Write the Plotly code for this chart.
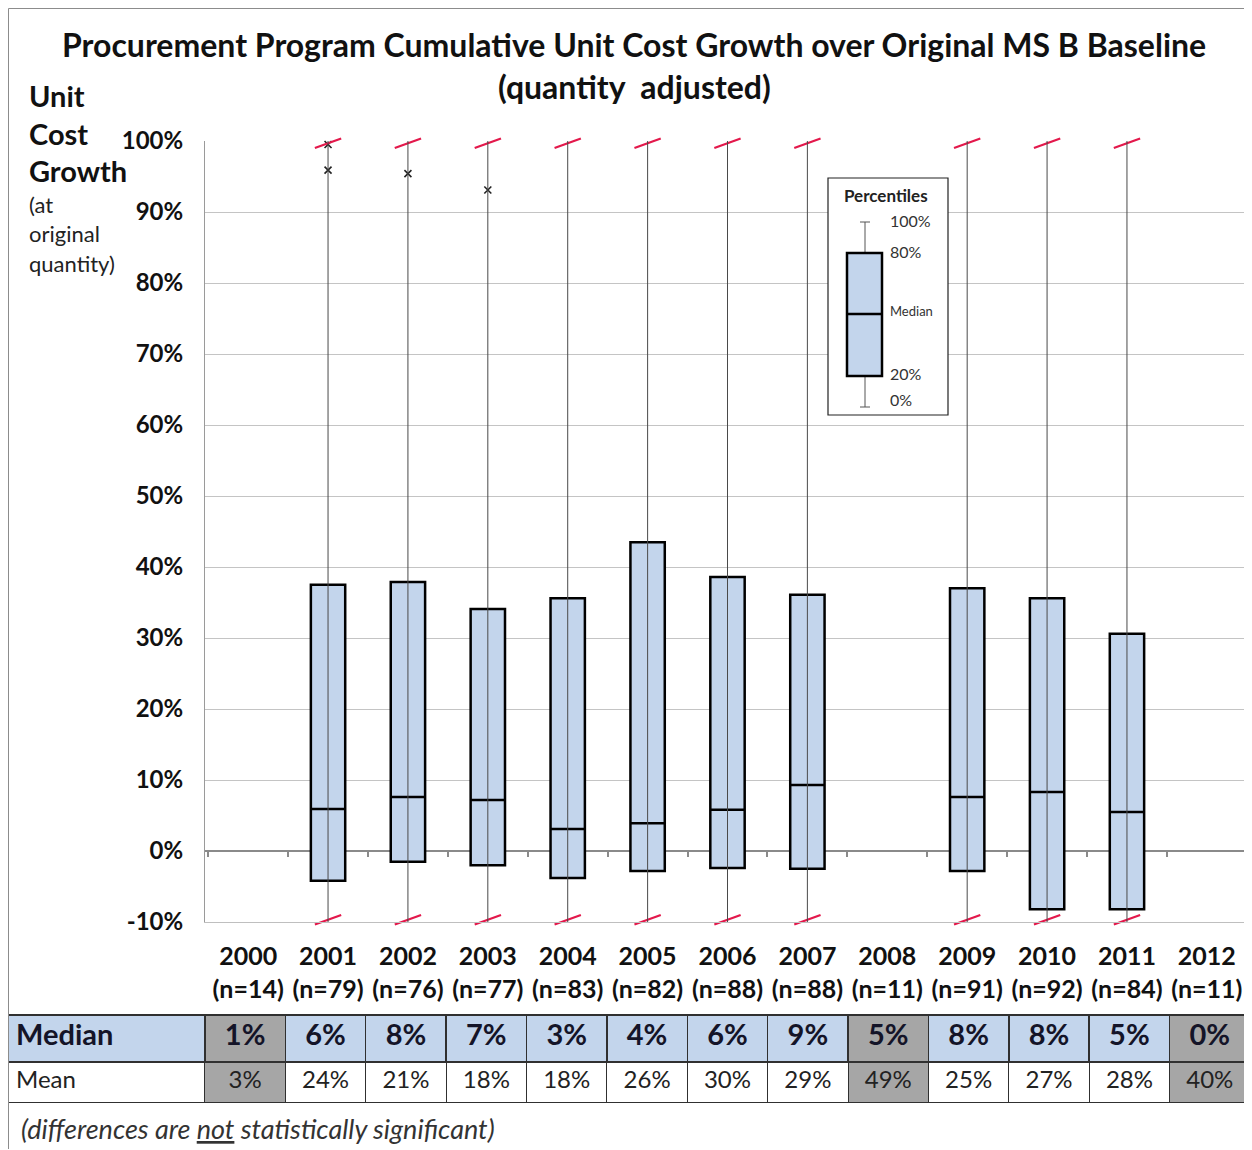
import plotly.graph_objects as go

# ---------------- data ----------------
years = ["2000", "2001", "2002", "2003", "2004", "2005", "2006",
         "2007", "2008", "2009", "2010", "2011", "2012"]
n_counts = [14, 79, 76, 77, 83, 82, 88, 88, 11, 91, 92, 84, 11]

box_years = ["2001", "2002", "2003", "2004", "2005", "2006", "2007",
             "2009", "2010", "2011"]
p20 = [-4.2, -1.5, -2.0, -3.8, -2.8, -2.4, -2.5, -2.8, -8.2, -8.2]
p50 = [5.9, 7.6, 7.2, 3.1, 3.9, 5.8, 9.3, 7.6, 8.3, 5.5]
p80 = [37.5, 37.9, 34.1, 35.6, 43.5, 38.6, 36.1, 37.0, 35.6, 30.6]
# whisker ends are off-scale; shown clipped at the axis limits
p0_clipped = [-10, -10, -10, -10, -10, -10, -10, -10, -10, -10]
p100_clipped = [100, 100, 100, 100, 100, 100, 100, 100, 100, 100]

outlier_years = ["2001", "2001", "2002", "2003"]
outlier_vals = [99.5, 95.9, 95.4, 93.1]

table_median = [1, 6, 8, 7, 3, 4, 6, 9, 5, 8, 8, 5, 0]
table_mean = [3, 24, 21, 18, 18, 26, 30, 29, 49, 25, 27, 28, 40]
grey_years = ["2000", "2008", "2012"]

y_tick_vals = [-10, 0, 10, 20, 30, 40, 50, 60, 70, 80, 90, 100]
y_tick_text = ["-10%", "0%", "10%", "20%", "30%", "40%", "50%",
               "60%", "70%", "80%", "90%", "100%"]

# ---------------- geometry helpers ----------------
# the page places the figure 8px in from the window corner,
# so positions below are given in window pixels and shifted by OFF
OFF = 8
W, H = 1244, 1142
ML, MR, MT, MB = 0, 2, 0, 2
PW, PH = W - ML - MR, H - MT - MB


def fx(x):
    return (x - OFF - ML) / PW


def fy(y):
    return (H - MB - (y - OFF)) / PH


FONT = "Lato"
RED = "#e3184b"
BLUE = "#c3d5ec"
GREY = "#a6a6a6"
XRANGE = [-0.54, len(years) - 0.46]

fig = go.Figure()

# whiskers (thin) - drawn on the overlay axis that carries the 0% ticks
wx, wy = [], []
for yr, lo, hi in zip(box_years, p0_clipped, p100_clipped):
    wx += [yr, yr, None]
    wy += [lo, hi, None]
fig.add_trace(go.Scatter(x=wx, y=wy, mode="lines", xaxis="x2",
                         line=dict(color="#4a4a4a", width=1),
                         hoverinfo="skip", showlegend=False, cliponaxis=False))

# boxes
fig.add_trace(go.Box(x=box_years, q1=p20, median=p50, q3=p80,
                     lowerfence=p20, upperfence=p80,
                     fillcolor=BLUE, line=dict(color="black", width=2.5),
                     width=0.43, whiskerwidth=0, boxpoints=False,
                     showlegend=False))

# outliers
fig.add_trace(go.Scatter(x=outlier_years, y=outlier_vals, mode="markers",
                         marker=dict(symbol="x-thin", size=7,
                                     line=dict(color="#222", width=1.6)),
                         showlegend=False, cliponaxis=False))

# red axis-break slashes at clipped whisker ends
for ends in (p100_clipped, p0_clipped):
    for d in (0.32, -0.32):
        fig.add_trace(go.Scatter(
            x=box_years, y=[v + d for v in ends], mode="markers",
            marker=dict(symbol="line-ew", size=20, angle=-20, color=RED,
                        line=dict(color=RED, width=2.2)),
            showlegend=False, cliponaxis=False, hoverinfo="skip"))

# table (Median as header row, Mean as body row)
hdr_fill = [BLUE] + [GREY if y in grey_years else BLUE for y in years]
cell_fill = ["white"] + [GREY if y in grey_years else "white" for y in years]
fig.add_trace(go.Table(
    domain=dict(x=[0, 1], y=[fy(1103), fy(1015)]),
    columnwidth=[197] + [80.4] * len(years),
    header=dict(values=[["Median"]] + [[f"{v}%"] for v in table_median],
                fill=dict(color=[[c] for c in hdr_fill]),
                line=dict(color="#303030", width=1.5),
                align=["left"] + ["center"] * len(years),
                font=dict(family=FONT, size=29, color="#141428", weight="bold"),
                height=47),
    cells=dict(values=[["Mean"]] + [[f"{v}%"] for v in table_mean],
               fill=dict(color=[[c] for c in cell_fill]),
               line=dict(color="#303030", width=1),
               align=["left"] + ["center"] * len(years),
               font=dict(family=FONT, size=24, color="#222"),
               height=40),
))

# ---------------- layout ----------------
tick_text_x = [f"{y}<br>(n={n})" for y, n in zip(years, n_counts)]

fig.update_layout(
    width=W, height=H,
    margin=dict(l=ML, r=MR, t=MT, b=MB, autoexpand=False),
    paper_bgcolor="white", plot_bgcolor="white",
    font=dict(family=FONT, color="#111"),
    xaxis=dict(type="category", categoryorder="array", categoryarray=years,
               range=XRANGE,
               domain=[fx(205), 1], automargin=False,
               tickvals=years, ticktext=tick_text_x,
               tickfont=dict(family=FONT, size=25, color="#111", weight="bold"),
               showgrid=False, showline=True, linecolor="#bfbfbf",
               ticks="", ticklabelstandoff=12, zeroline=False),
    # overlay category axis: carries the small boundary ticks along the 0% line
    xaxis2=dict(type="category", categoryorder="array", categoryarray=years,
                overlaying="x", anchor="free", position=fy(851),
                range=XRANGE, domain=[fx(205), 1],
                automargin=False, side="bottom",
                tickson="boundaries", showticklabels=False,
                ticks="outside", ticklen=5,
                tickcolor="#8a8a8a", tickwidth=1.5,
                showgrid=False, showline=False, zeroline=False),
    yaxis=dict(range=[-10, 100], domain=[fy(922), fy(141)], automargin=False,
               tickvals=y_tick_vals, ticktext=y_tick_text,
               tickfont=dict(family=FONT, size=24, color="#111", weight="bold"),
               showgrid=True, gridcolor="#c4c4c4", gridwidth=1,
               zeroline=True, zerolinecolor="#8a8a8a", zerolinewidth=2,
               showline=True, linecolor="#9a9a9a", ticks="",
               ticklabelstandoff=16),
)

ann = []
# title
ann.append(dict(text="<b>Procurement Program Cumulative Unit Cost Growth over Original MS B Baseline</b>",
                x=fx(634), y=fy(45), xref="paper", yref="paper", showarrow=False,
                font=dict(family=FONT, size=32, color="#111"), xanchor="center", yanchor="middle"))
ann.append(dict(text="<b>(quantity  adjusted)</b>",
                x=fx(634), y=fy(87), xref="paper", yref="paper", showarrow=False,
                font=dict(family=FONT, size=32, color="#111"), xanchor="center", yanchor="middle"))
# y-axis label
for t, yy in (("Unit", 95), ("Cost", 133), ("Growth", 170)):
    ann.append(dict(text=f"<b>{t}</b>", x=fx(27), y=fy(yy), xref="paper", yref="paper",
                    showarrow=False, xanchor="left", yanchor="middle",
                    font=dict(family=FONT, size=29, color="#111")))
for t, yy in (("(at", 205), ("original", 234), ("quantity)", 263)):
    ann.append(dict(text=t, x=fx(27), y=fy(yy), xref="paper", yref="paper",
                    showarrow=False, xanchor="left", yanchor="middle",
                    font=dict(family=FONT, size=22, color="#222")))
# footnote
ann.append(dict(text="<i>(differences are <u>not</u> statistically significant)</i>",
                x=fx(19), y=fy(1128), xref="paper", yref="paper", showarrow=False,
                xanchor="left", yanchor="middle",
                font=dict(family=FONT, size=27, color="#333")))
# percentile key labels
for t, yy, s in (("Percentiles", 196, 17), ("100%", 220, 16), ("80%", 251, 16),
                 ("Median", 311, 13), ("20%", 373, 16), ("0%", 400, 16)):
    if t == "Percentiles":
        ann.append(dict(text=f"<b>{t}</b>", x=fx(886), y=fy(yy), xref="paper", yref="paper",
                        showarrow=False, xanchor="center", yanchor="middle",
                        font=dict(family=FONT, size=s, color="#222")))
    else:
        ann.append(dict(text=t, x=fx(888), y=fy(yy), xref="paper", yref="paper",
                        showarrow=False, xanchor="left", yanchor="middle",
                        font=dict(family=FONT, size=s, color="#333")))

shapes = []
# outer frame (top + left)
shapes.append(dict(type="line", xref="paper", yref="paper",
                   x0=fx(8.5), x1=fx(1251), y0=fy(8.5), y1=fy(8.5),
                   line=dict(color="#8c8c8c", width=1)))
shapes.append(dict(type="line", xref="paper", yref="paper",
                   x0=fx(8.5), x1=fx(8.5), y0=fy(8.5), y1=fy(1149),
                   line=dict(color="#8c8c8c", width=1)))
# percentile key
shapes.append(dict(type="rect", xref="paper", yref="paper",
                   x0=fx(828), x1=fx(948), y0=fy(415), y1=fy(178),
                   line=dict(color="#222", width=1.2), fillcolor="white", layer="above"))
shapes.append(dict(type="line", xref="paper", yref="paper",
                   x0=fx(865), x1=fx(865), y0=fy(222), y1=fy(407),
                   line=dict(color="#555", width=1), layer="above"))
for yy in (222, 407):
    shapes.append(dict(type="line", xref="paper", yref="paper",
                       x0=fx(860), x1=fx(870), y0=fy(yy), y1=fy(yy),
                       line=dict(color="#555", width=1), layer="above"))
shapes.append(dict(type="rect", xref="paper", yref="paper",
                   x0=fx(847), x1=fx(882), y0=fy(376), y1=fy(253),
                   line=dict(color="black", width=2.5), fillcolor=BLUE, layer="above"))
shapes.append(dict(type="line", xref="paper", yref="paper",
                   x0=fx(847), x1=fx(882), y0=fy(314), y1=fy(314),
                   line=dict(color="black", width=2.5), layer="above"))

fig.update_layout(annotations=ann, shapes=shapes)

fig.write_html("out.html")
